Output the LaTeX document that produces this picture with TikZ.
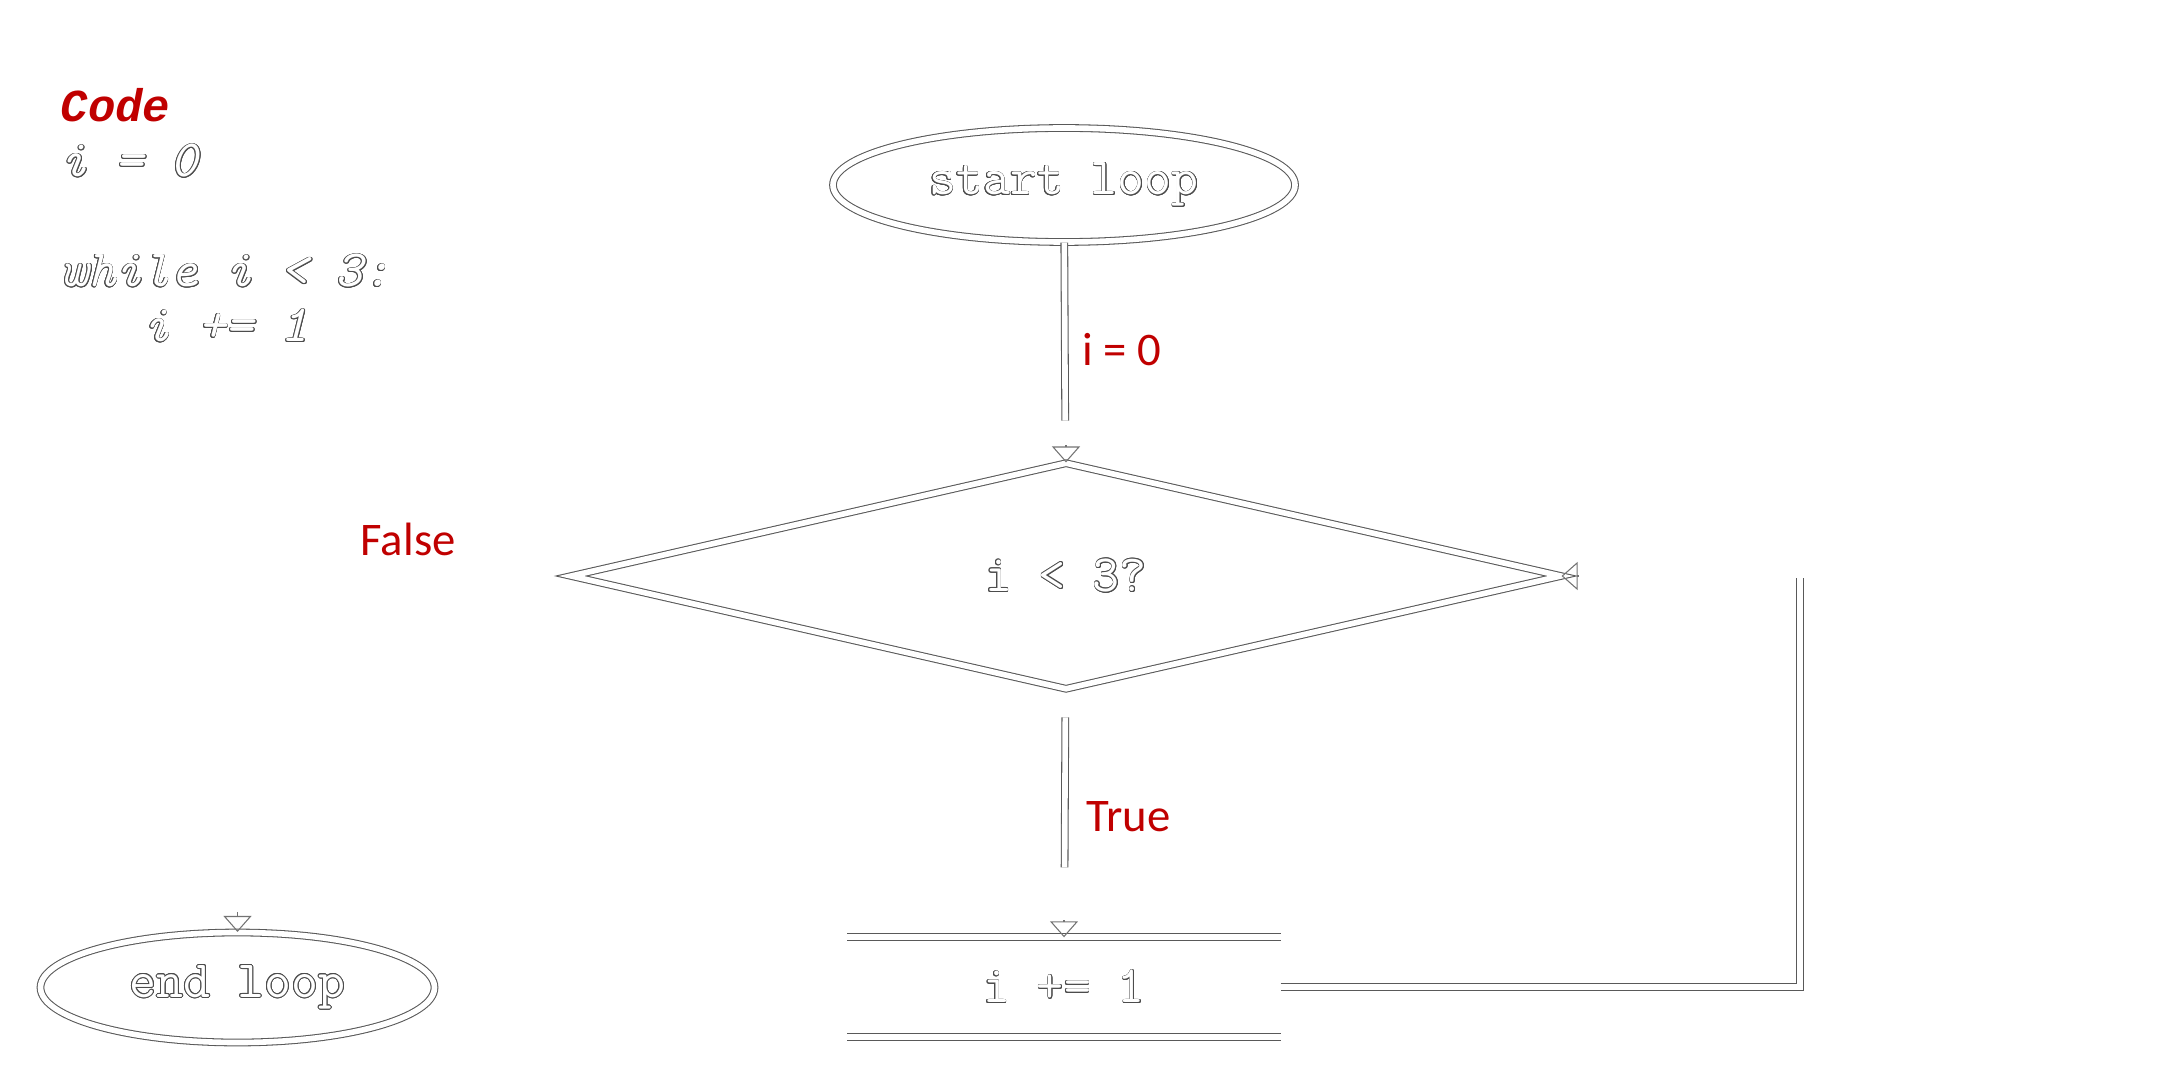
\documentclass[tikz,border=0pt]{standalone}
\usepackage{fontspec}
\usepackage{contour}
\usetikzlibrary{shapes.geometric, arrows.meta}
\newfontfamily\codefont{Latin Modern Mono}
\newfontfamily\headfont{Liberation Mono}
\newfontfamily\lblfont{Carlito}
\definecolor{lblred}{HTML}{C00000}
\contourlength{0.22pt}
\newcommand{\outl}[1]{\contour{black!70}{#1}}

\begin{document}
\begin{tikzpicture}[%
  dbl/.style = {draw = black!65, line width = 0.3pt, double = white, double distance = 1.6pt},
  tip/.style = {-{Triangle[open, length = 0.16cm, width = 0.28cm]}, draw = black!55, line width = 0.3pt},
  shapetxt/.style = {font = \codefont\fontsize{14.9}{17}\selectfont, text = white, inner sep = 0pt},
  term/.style = {ellipse, dbl, shapetxt},
  codeline/.style = {font = \codefont\itshape\fontsize{14.9}{17}\selectfont, text = white, inner sep = 0pt, anchor = base west},
  lbl/.style = {font = \lblfont\fontsize{13.3}{16}\selectfont, text = lblred, inner sep = 0pt, anchor = base west}]
  \useasboundingbox (0, 0) rectangle (21.6, -10.8);

  % code listing
  \node[codeline, font = \headfont\bfseries\itshape\fontsize{13}{15.6}\selectfont, text = lblred] (chead) at (0.60, -1.22) {Code};
  \node[codeline] (c1) at (0.60, -1.77) {\outl{i = 0}};
  \node[codeline] (c2) at (0.60, -2.87) {\outl{while i < 3:}};
  \node[codeline] (c3) at (1.425, -3.42) {\outl{i += 1}};

  % flow chart
  \node[term, minimum width = 4.62cm, minimum height = 1.14cm] (start) at (10.64, -1.85) {\outl{start loop}};
  \node[diamond, dbl, shapetxt, aspect = 4.4, minimum width = 9.90cm, minimum height = 2.26cm] (dec) at (10.66, -5.76) {\outl{i < 3?}};
  \node[shapetxt, minimum width = 4.32cm, minimum height = 0.98cm] (incr) at (10.64, -9.87) {\outl{i += 1}};
  \node[term, minimum width = 3.94cm, minimum height = 1.10cm] (endl) at (2.375, -9.875) {\outl{end loop}};
  \coordinate (loopc) at (18.00, -5.78);

  \draw[dbl] (incr.north west) -- (incr.north east);
  \draw[dbl] (incr.south west) -- (incr.south east);

  \draw[dbl, shorten > = 0.42cm] (start) -- (dec);
  \draw[tip] ([yshift = 0.17cm]dec.north) -- (dec.north);
  \draw[dbl, shorten < = 0.28cm, shorten > = 0.70cm] (dec) -- (incr);
  \draw[tip] ([yshift = 0.17cm]incr.north) -- (incr.north);
  \draw[dbl] (incr.east) -| (loopc);
  \draw[tip] ([xshift = 0.17cm]dec.east) -- (dec.east);
  \draw[tip] ([yshift = 0.2cm]endl.north) -- (endl.north);

  \node[lbl] (lzero) at (10.82, -3.65) {i = 0};
  \node[lbl] (ltrue) at (10.86, -8.31) {True};
  \node[lbl] (lfalse) at (3.60, -5.55) {False};
\end{tikzpicture}
\end{document}
